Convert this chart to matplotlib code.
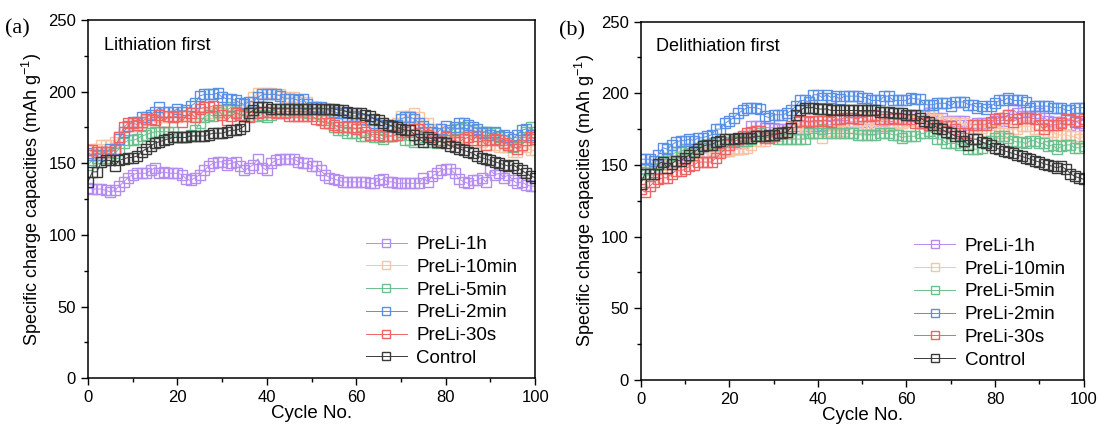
import matplotlib
matplotlib.use("Agg")
import matplotlib.pyplot as plt
import numpy as np

plt.rcParams['font.family'] = ['Liberation Sans', 'DejaVu Sans']

cycles = list(range(0, 101))
labels = ['PreLi-1h', 'PreLi-10min', 'PreLi-5min', 'PreLi-2min', 'PreLi-30s', 'Control']
colors = ['#b58cf2', '#f9c4a4', '#6cc08e', '#5a8fe6', '#ee6464', '#3a3a3a']

# (a) Lithiation first
h1_a = [133, 132, 132, 132, 131, 130, 131, 134, 137, 140,
        142, 143, 143, 143, 145, 147, 143, 144, 143, 143,
        143, 142, 139, 138, 140, 142, 145, 148, 150, 151,
        151, 149, 150, 151, 148, 145, 147, 149, 153, 147,
        145, 150, 152, 153, 153, 153, 153, 151, 150, 150,
        148, 148, 145, 142, 140, 139, 138, 137, 137, 137,
        137, 137, 137, 136, 136, 138, 139, 137, 137, 136,
        136, 136, 136, 136, 136, 140, 137, 141, 143, 145,
        146, 146, 143, 139, 137, 136, 138, 138, 140, 137,
        145, 142, 143, 140, 142, 138, 136, 137, 135, 134,
        134]
m10_a = [156, 160, 160, 163, 163, 163, 165, 168, 172, 176,
         176, 176, 178, 180, 180, 180, 182, 182, 182, 182,
         182, 183, 183, 183, 183, 183, 185, 185, 185, 185,
         185, 187, 187, 187, 187, 187, 190, 196, 199, 199,
         199, 199, 198, 198, 196, 196, 196, 193, 193, 193,
         189, 189, 187, 187, 187, 185, 185, 185, 183, 183,
         183, 180, 180, 180, 178, 178, 178, 177, 177, 178,
         183, 183, 183, 185, 182, 178, 178, 174, 174, 174,
         171, 171, 171, 168, 168, 168, 165, 165, 165, 163,
         163, 163, 161, 161, 161, 158, 158, 162, 161, 159,
         159]
m5_a = [149, 152, 154, 154, 154, 156, 157, 160, 164, 166,
        166, 167, 169, 170, 171, 172, 172, 172, 172, 172,
        168, 168, 168, 170, 173, 178, 182, 184, 183, 186,
        187, 187, 189, 186, 184, 184, 183, 183, 183, 184,
        182, 184, 186, 186, 186, 186, 186, 186, 186, 185,
        185, 185, 183, 180, 178, 175, 173, 173, 171, 171,
        171, 169, 169, 170, 168, 168, 167, 169, 169, 170,
        170, 166, 166, 165, 167, 168, 165, 165, 164, 166,
        169, 172, 174, 174, 175, 173, 173, 172, 172, 172,
        171, 171, 168, 166, 163, 161, 165, 168, 172, 175,
        172]
m2_a = [157, 156, 156, 156, 158, 160, 160, 167, 172, 176,
        179, 179, 182, 182, 184, 186, 189, 186, 186, 186,
        188, 186, 187, 190, 192, 197, 198, 198, 198, 199,
        196, 195, 195, 194, 192, 191, 193, 193, 196, 198,
        198, 198, 198, 197, 195, 195, 195, 194, 195, 191,
        189, 189, 189, 188, 187, 186, 185, 185, 183, 183,
        183, 181, 181, 180, 178, 177, 176, 175, 176, 177,
        181, 182, 182, 181, 178, 176, 174, 172, 171, 174,
        176, 173, 175, 178, 178, 177, 175, 174, 171, 172,
        170, 172, 169, 170, 168, 167, 170, 173, 174, 170,
        170]
s30_a = [159, 159, 158, 158, 158, 158, 159, 168, 175, 178,
         178, 177, 179, 181, 181, 180, 184, 179, 183, 182,
         183, 179, 183, 185, 182, 188, 189, 189, 190, 187,
         184, 180, 183, 185, 184, 183, 182, 185, 185, 186,
         186, 186, 185, 185, 185, 183, 183, 183, 183, 183,
         183, 181, 180, 178, 178, 177, 175, 175, 175, 175,
         174, 175, 172, 170, 170, 170, 169, 169, 169, 170,
         172, 172, 173, 174, 174, 172, 170, 168, 166, 165,
         168, 166, 166, 165, 167, 168, 166, 169, 166, 163,
         166, 167, 166, 164, 163, 162, 160, 163, 166, 168,
         167]
ctrl_a = [137, 144, 144, 151, 152, 152, 148, 152, 153, 154,
          154, 155, 158, 160, 162, 164, 165, 166, 167, 168,
          168, 168, 168, 169, 169, 169, 169, 170, 171, 171,
          171, 172, 173, 173, 174, 176, 185, 187, 189, 189,
          189, 188, 188, 188, 188, 188, 188, 188, 188, 188,
          188, 188, 188, 188, 188, 188, 187, 187, 186, 185,
          185, 185, 184, 183, 181, 180, 178, 177, 176, 175,
          174, 173, 173, 170, 167, 165, 168, 167, 165, 165,
          164, 162, 161, 160, 159, 158, 157, 155, 154, 153,
          152, 151, 150, 149, 148, 149, 147, 145, 143, 141,
          140]

# (b) Delithiation first
h1_b = [147, 148, 148, 148, 150, 151, 153, 153, 153, 155,
        157, 158, 159, 159, 159, 159, 160, 160, 160, 160,
        160, 161, 161, 165, 170, 177, 177, 177, 176, 176,
        176, 175, 175, 175, 175, 175, 177, 177, 177, 177,
        177, 178, 178, 178, 178, 178, 178, 180, 180, 180,
        180, 178, 175, 177, 177, 177, 177, 179, 179, 179,
        184, 184, 184, 184, 184, 186, 186, 183, 183, 181,
        181, 181, 181, 181, 178, 178, 179, 179, 179, 179,
        181, 181, 181, 185, 189, 186, 184, 184, 184, 184,
        186, 183, 181, 180, 180, 180, 178, 178, 181, 179,
        178]
m10_b = [145, 147, 147, 147, 150, 150, 152, 152, 152, 154,
         154, 156, 156, 158, 158, 158, 159, 159, 159, 160,
         160, 161, 161, 161, 162, 164, 167, 167, 167, 170,
         170, 170, 172, 172, 172, 175, 175, 172, 172, 172,
         172, 169, 174, 174, 174, 174, 174, 176, 176, 176,
         176, 178, 178, 178, 178, 178, 179, 179, 179, 179,
         181, 181, 181, 181, 185, 187, 182, 182, 180, 180,
         180, 179, 179, 179, 176, 176, 176, 176, 174, 174,
         174, 172, 172, 175, 175, 175, 177, 177, 177, 175,
         175, 173, 173, 173, 171, 171, 171, 170, 170, 168,
         170]
m5_b = [145, 147, 147, 147, 150, 153, 155, 157, 159, 159,
        161, 161, 160, 162, 164, 164, 165, 164, 164, 166,
        166, 167, 167, 167, 167, 168, 171, 172, 170, 170,
        170, 168, 168, 168, 168, 168, 168, 168, 172, 172,
        172, 175, 172, 172, 172, 172, 172, 172, 172, 171,
        171, 171, 171, 171, 172, 172, 172, 171, 171, 169,
        170, 170, 170, 172, 172, 174, 172, 168, 168, 165,
        165, 165, 164, 166, 161, 161, 161, 162, 165, 167,
        169, 170, 170, 169, 167, 166, 166, 165, 167, 167,
        165, 165, 163, 164, 161, 163, 164, 164, 162, 162,
        163]
m2_b = [154, 154, 154, 153, 157, 162, 161, 164, 166, 167,
        167, 168, 167, 169, 169, 170, 171, 175, 175, 179,
        181, 183, 186, 188, 190, 190, 190, 189, 184, 183,
        185, 185, 185, 186, 188, 191, 195, 195, 194, 199,
        199, 197, 199, 197, 198, 196, 198, 198, 198, 198,
        197, 197, 195, 195, 195, 198, 198, 195, 195, 195,
        195, 197, 196, 196, 192, 192, 192, 193, 193, 193,
        191, 194, 194, 194, 192, 192, 190, 191, 189, 191,
        193, 195, 195, 197, 195, 195, 195, 194, 190, 191,
        191, 191, 191, 190, 190, 190, 188, 188, 190, 190,
        190]
s30_b = [133, 131, 135, 138, 140, 141, 141, 144, 146, 146,
         147, 149, 150, 152, 152, 152, 152, 155, 158, 161,
         164, 166, 168, 170, 172, 173, 174, 174, 169, 169,
         170, 172, 173, 173, 177, 180, 181, 181, 180, 181,
         181, 181, 181, 180, 182, 182, 183, 183, 183, 182,
         184, 184, 184, 185, 182, 182, 182, 183, 182, 182,
         182, 182, 179, 179, 179, 178, 178, 178, 177, 177,
         177, 175, 172, 172, 172, 178, 178, 178, 178, 180,
         182, 183, 183, 185, 180, 182, 183, 183, 183, 182,
         178, 175, 178, 178, 178, 179, 182, 182, 180, 181,
         182]
ctrl_b = [137, 144, 144, 144, 151, 152, 148, 151, 153, 153,
          155, 157, 159, 161, 163, 164, 164, 166, 167, 168,
          168, 168, 169, 169, 169, 169, 170, 170, 170, 171,
          171, 172, 172, 173, 176, 185, 188, 190, 190, 190,
          189, 189, 189, 188, 188, 188, 188, 188, 188, 188,
          188, 188, 188, 188, 187, 187, 187, 186, 186, 186,
          185, 185, 185, 183, 181, 180, 178, 176, 175, 173,
          172, 170, 170, 167, 164, 168, 168, 166, 165, 164,
          162, 161, 160, 159, 158, 157, 156, 155, 154, 153,
          152, 151, 150, 149, 148, 149, 147, 144, 142, 141,
          140]

panels = [
    ('(a)', 'Lithiation first', [h1_a, m10_a, m5_a, m2_a, s30_a, ctrl_a]),
    ('(b)', 'Delithiation first', [h1_b, m10_b, m5_b, m2_b, s30_b, ctrl_b]),
]

fig = plt.figure(figsize=(10.99, 4.24), dpi=100)
rects = [[0.080, 0.108, 0.407, 0.845], [0.583, 0.104, 0.403, 0.845]]

for (tag, note, series), rect in zip(panels, rects):
    ax = fig.add_axes(rect)
    for y, lab, col in zip(series, labels, colors):
        ax.plot(cycles, y, color=col, lw=0.7, marker='s', ms=7.5,
                mfc='none', mec=col, mew=1.0, label=lab)
    ax.set_xlim(0, 100)
    ax.set_ylim(0, 250)
    ax.set_xticks([0, 20, 40, 60, 80, 100])
    ax.set_xticks(np.arange(10, 100, 20), minor=True)
    ax.set_yticks([0, 50, 100, 150, 200, 250])
    ax.set_yticks(np.arange(25, 250, 50), minor=True)
    ax.tick_params(which='major', direction='out', length=5, width=1, labelsize=12)
    ax.tick_params(which='minor', direction='out', length=3, width=1)
    for sp in ax.spines.values():
        sp.set_linewidth(1.1)
    ax.set_xlabel('Cycle No.', fontsize=13.5, labelpad=0)
    ax.set_ylabel('Specific charge capacities (mAh g$^{\\mathregular{-1}}$)', fontsize=13, labelpad=3)
    ax.text(0.035, 0.93, note, transform=ax.transAxes, fontsize=13, va='center')
    ax.text(-0.185, 0.975, tag, transform=ax.transAxes, fontsize=16,
            family='Liberation Serif', va='center')
    ax.legend(loc='lower right', frameon=False, fontsize=13.5, handlelength=2.2,
              handletextpad=0.5, labelspacing=0.3, borderaxespad=0.2,
              markerscale=0.75, bbox_to_anchor=(0.985, 0.0))

fig.savefig('out.png', dpi=100)
